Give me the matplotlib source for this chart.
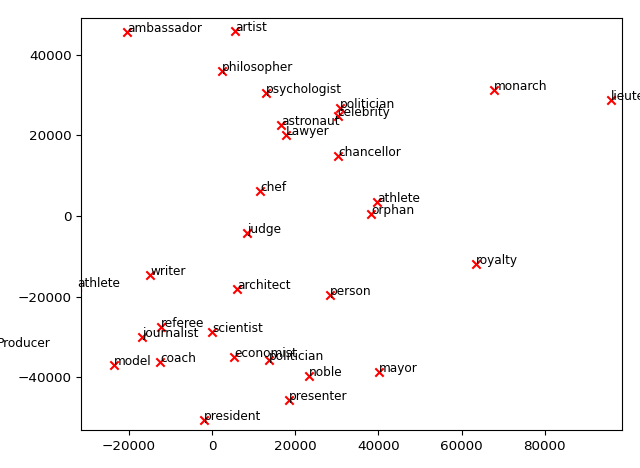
import matplotlib
matplotlib.use("Agg")
import matplotlib.pyplot as plt

# mots et coordonnées 2D
words = ["ambassador", "artist", "philosopher", "psychologist", "astronaut",
         "Lawyer", "politician", "celebrity", "chancellor", "monarch",
         "lieutenant", "chef", "athlete", "orphan", "judge", "writer",
         "athlete", "architect", "person", "royalty", "referee", "scientist",
         "journalist", "Producer", "model", "coach", "economist", "politician",
         "noble", "mayor", "presenter", "president"]
xs = [-20430, 5600, 2480, 12980, 16590,
      17790, 30770, 30210, 30370, 67790,
      95910, 11540, 39740, 38220, 8410, -14830,
      -32400, 6090, 28440, 63460, -12180, 0,
      -16750, -51800, -23480, -12420, 5370, 13780,
      23320, 40140, 18590, -1920]
ys = [45640, 45890, 35950, 30640, 22530,
      20200, 26760, 24840, 14910, 31300,
      28820, 6130, 3480, 420, -4300, -14740,
      -17560, -18220, -19710, -12010, -27660, -28900,
      -30150, -32620, -37100, -36200, -35110, -35860,
      -39830, -38840, -45800, -50760]

fig = plt.figure(figsize=(6.4, 4.68), dpi=100)
ax = fig.add_subplot(111)
plt.subplots_adjust(left=0.127, right=0.972, top=0.961, bottom=0.081)

ax.scatter(xs, ys, marker="x", color="red")
for w, x, y in zip(words, xs, ys):
    ax.text(x, y, w, fontsize=8.7)

ax.set_xlim(-31400, 98600)
ax.set_ylim(-53170, 49100)
ax.set_xticks([-20000, 0, 20000, 40000, 60000, 80000])
ax.set_yticks([-40000, -20000, 0, 20000, 40000])
ax.tick_params(labelsize=9.7)

plt.savefig("out.png", dpi=100)
